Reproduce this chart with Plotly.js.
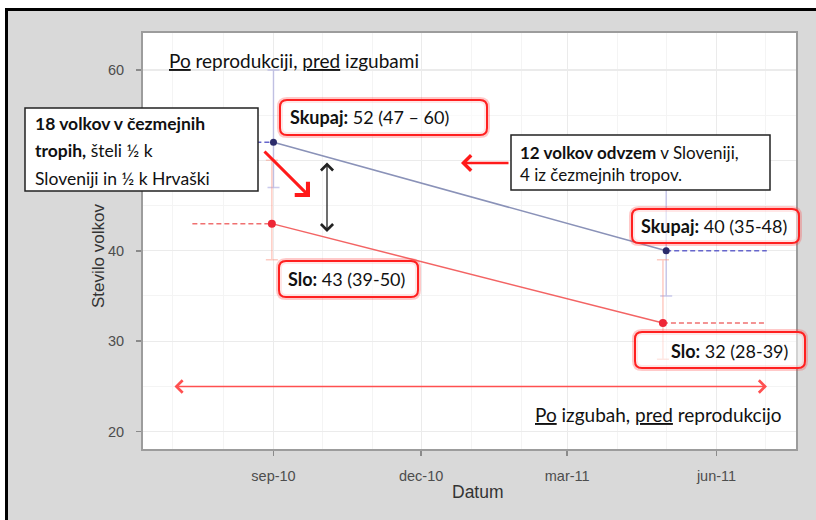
<!DOCTYPE html>
<html><head><meta charset="utf-8">
<script src="https://cdn.plot.ly/plotly-3.0.1.min.js"></script>
<style>html,body{margin:0;padding:0;background:#fff}#chart{width:816px;height:520px}</style>
</head><body><div id="chart"></div>
<script>
// ---- data ----
const skupajDates = ['2010-09-01', '2011-05-01'];
const skupajValues = [52, 40];
const skupajLow = [47, 35];
const skupajHigh = [60, 48];
const sloDates = ['2010-08-31', '2011-04-29'];
const sloValues = [43, 32];
const sloLow = [39, 28];
const sloHigh = [50, 39];
const beforeStart = '2010-07-13';
const afterEnd = '2011-07-02';
const xTickVals = ['2010-09-01', '2010-12-01', '2011-03-01', '2011-06-01'];
const xTickText = ['sep-10', 'dec-10', 'mar-11', 'jun-11'];
const yTickVals = [20, 30, 40, 50, 60];

// ---- layout helpers (pixel -> paper) ----
const W = 816, H = 520, ML = 143, MR = 20, MT = 33, MB = 71;
const PW = W - ML - MR, PH = H - MT - MB;
const PX = px => (px - ML) / PW;
const PY = py => (H - MB - py) / PH;
const FONT = 'Lato, "Open Sans", sans-serif';
const AX = '"Liberation Sans", Arial, sans-serif';

function dashTrace(x, y, color) {
  return {x: x, y: y, type: 'scatter', mode: 'lines', hoverinfo: 'skip', showlegend: false,
    line: {color: color, width: 1.5, dash: '5px,3px'}};
}
function mainTrace(name, x, y, lo, hi, lineColor, markColor, errColor, msize) {
  return {name: name, x: x, y: y, type: 'scatter', mode: 'lines+markers', showlegend: false,
    line: {color: lineColor, width: 1.5},
    marker: {color: markColor, size: msize},
    error_y: {type: 'data', symmetric: false,
      array: hi.map((v, i) => v - y[i]), arrayminus: y.map((v, i) => v - lo[i]),
      color: errColor, thickness: 1.5, width: 6}};
}

const traces = [
  dashTrace([beforeStart, skupajDates[0]], [skupajValues[0], skupajValues[0]], '#6666cc'),
  dashTrace([skupajDates[1], afterEnd], [skupajValues[1], skupajValues[1]], '#6666cc'),
  dashTrace([beforeStart, sloDates[0]], [sloValues[0], sloValues[0]], '#f07070'),
  dashTrace([sloDates[1], afterEnd], [sloValues[1], sloValues[1]], '#f07070'),
  mainTrace('Skupaj', skupajDates, skupajValues, skupajLow, skupajHigh, '#8a92b8', '#2b2b6b', 'rgba(140,140,215,0.45)', 7),
  mainTrace('Slo', sloDates, sloValues, sloLow, sloHigh, '#f36464', '#ee2636', 'rgba(250,140,120,0.45)', 8)
];

function rrect(x0, y0, x1, y1, r) {
  const p = (x, y) => PX(x) + ',' + PY(y);
  return 'M' + p(x0 + r, y0) + ' L' + p(x1 - r, y0) + ' Q' + p(x1, y0) + ' ' + p(x1, y0 + r) +
    ' L' + p(x1, y1 - r) + ' Q' + p(x1, y1) + ' ' + p(x1 - r, y1) +
    ' L' + p(x0 + r, y1) + ' Q' + p(x0, y1) + ' ' + p(x0, y1 - r) +
    ' L' + p(x0, y0 + r) + ' Q' + p(x0, y0) + ' ' + p(x0 + r, y0) + ' Z';
}
function redBox(x0, y0, x1, y1) {
  return [
    {type: 'path', xref: 'paper', yref: 'paper', layer: 'above', path: rrect(x0, y0, x1, y1, 7),
      line: {color: 'rgba(255,60,60,0.28)', width: 6}, fillcolor: 'rgba(0,0,0,0)'},
    {type: 'path', xref: 'paper', yref: 'paper', layer: 'above', path: rrect(x0, y0, x1, y1, 7),
      line: {color: '#ff2020', width: 2}, fillcolor: 'rgba(255,255,255,0.55)'}
  ];
}
function rectPx(x0, y0, x1, y1, fill, lineColor, lw) {
  return {type: 'rect', xref: 'paper', yref: 'paper', layer: 'above',
    x0: PX(x0), x1: PX(x1), y0: PY(y1), y1: PY(y0),
    fillcolor: fill, line: {color: lineColor, width: lw}};
}

const shapes = [
  rectPx(0, 0, 816, 8, '#ffffff', 'rgba(0,0,0,0)', 0),
  rectPx(0, 0, 5, 520, '#ffffff', 'rgba(0,0,0,0)', 0),
  rectPx(5, 8, 816, 11, '#000000', 'rgba(0,0,0,0)', 0),
  rectPx(5, 8, 8, 520, '#000000', 'rgba(0,0,0,0)', 0),
  rectPx(25, 108, 258, 191, '#ffffff', '#222', 1.5),
  rectPx(511, 135, 770, 190, '#ffffff', '#222', 1.5),
  ...redBox(280, 100, 487, 135),
  ...redBox(632, 209, 799, 243),
  ...redBox(279, 261, 418, 297),
  ...redBox(635, 332, 805, 368)
];

function txt(text, px, py, size, anchor, extra) {
  return Object.assign({text: text, x: PX(px), y: PY(py), xref: 'paper', yref: 'paper',
    xanchor: anchor || 'left', yanchor: 'middle', showarrow: false, borderpad: 0,
    font: {family: FONT, size: size, color: '#111'}}, extra || {});
}
function arrow(x0, y0, x1, y1, color, width, head, size, both) {
  return {text: '', x: PX(x1), y: PY(y1), xref: 'paper', yref: 'paper',
    ax: x0 - x1, ay: y0 - y1, showarrow: true, arrowcolor: color, arrowwidth: width,
    arrowhead: head, startarrowhead: head, arrowsize: size, startarrowsize: size,
    arrowside: both ? 'end+start' : 'end', standoff: 0, startstandoff: 0,
    font: {size: 1}};
}
const sp = s => '<span style="font-size:17.5px">' + s + '</span>';

const annotations = [
  txt('<u>Po</u> reprodukciji, <u>pred</u> izgubami', 168, 60, 19),
  txt(sp('<b>18 volkov v čezmejnih</b>') + '<br>' + sp('<b>tropih,</b> šteli ½ k') + '<br>' + sp('Sloveniji in ½ k Hrvaški'),
      34, 151, 21, 'left', {align: 'left'}),
  txt('<b>12 volkov odvzem</b> v Sloveniji,<br>4 iz čezmejnih tropov.', 519, 163, 17, 'left', {align: 'left'}),
  txt('<b>Skupaj:</b> 52 (47 – 60)', 289, 117, 18),
  txt('<b>Skupaj:</b> 40 (35-48)', 640, 226, 18),
  txt('<b>Slo:</b> 43 (39-50)', 287, 279, 18),
  txt('<b>Slo:</b> 32 (28-39)', 670, 351, 18),
  txt('<u>Po</u> izgubah, <u>pred</u> reprodukcijo', 783, 414, 19, 'right'),
  txt('Stevilo volkov', 98, 256, 17, 'center', {textangle: -90, font: {family: AX, size: 17, color: '#333'}}),
  txt('Datum', 478, 492, 17.5, 'center', {font: {family: AX, size: 17.5, color: '#333'}}),
  arrow(263, 150, 310, 197, '#ff1a1a', 3, 4, 1.2, false),
  arrow(327, 161, 327, 232, '#222', 1.3, 4, 1.8, true),
  arrow(510, 163, 461, 163, '#ff1a1a', 2.5, 4, 1.2, false),
  arrow(173, 386.5, 767, 386.5, '#ff5050', 1.5, 4, 1.6, true)
];

const layout = {
  width: W, height: H,
  margin: {l: ML, r: MR, t: MT, b: MB, pad: 0},
  paper_bgcolor: '#d9d9d9', plot_bgcolor: '#ffffff',
  showlegend: false,
  xaxis: {type: 'date', range: ['2010-06-12 14:00', '2011-07-20'],
    tickmode: 'array', tickvals: xTickVals, ticktext: xTickText,
    showgrid: true, gridcolor: '#ebebeb', gridwidth: 1.3,
    minor: {tickmode: 'linear', tick0: '2010-06-01', dtick: 'M1', showgrid: true, gridcolor: '#f4f4f4', gridwidth: 1, ticklen: 0},
    ticks: 'outside', ticklen: 5, tickwidth: 1.5, tickcolor: '#8a8a8a',
    showline: true, linecolor: '#9c9c9c', linewidth: 2, mirror: true, zeroline: false,
    ticklabelstandoff: 8,
    tickfont: {family: AX, size: 14.5, color: '#4d4d4d'}},
  yaxis: {range: [18.07, 64.09], tickmode: 'array', tickvals: yTickVals,
    showgrid: true, gridcolor: '#ebebeb', gridwidth: 1.3,
    minor: {tickmode: 'linear', tick0: 0, dtick: 5, showgrid: true, gridcolor: '#f4f4f4', gridwidth: 1, ticklen: 0},
    ticks: 'outside', ticklen: 5, tickwidth: 1.5, tickcolor: '#8a8a8a',
    showline: true, linecolor: '#9c9c9c', linewidth: 2, mirror: true, zeroline: false,
    ticklabelstandoff: 9,
    tickfont: {family: AX, size: 14.5, color: '#4d4d4d'}},
  shapes: shapes,
  annotations: annotations
};

Plotly.newPlot('chart', traces, layout, {staticPlot: true, displayModeBar: false});
</script>
</body></html>
